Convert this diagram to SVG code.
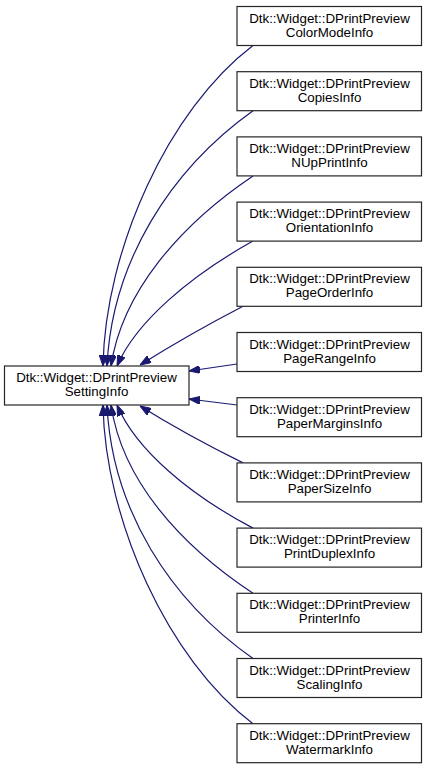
<svg xmlns="http://www.w3.org/2000/svg" width="427" height="771" viewBox="0 0 427 771">
<style>
.node rect { fill: #ffffff; stroke: #262626; stroke-width: 1.2; }
.node text { font-family: "Liberation Sans", Arial, sans-serif; font-size: 13.33px; fill: #000000; text-anchor: middle; }
.edges path { fill: none; stroke: #191970; stroke-width: 1.2; marker-start: url(#arr); }
</style>
<defs>
<marker id="arr" viewBox="0 0 11 8" refX="11" refY="4" markerWidth="11" markerHeight="8" markerUnits="userSpaceOnUse" orient="auto-start-reverse">
<path d="M0,0 L11,4 L0,8 z" fill="#191970" stroke="#191970" stroke-width="1"/>
</marker>
</defs>
<rect width="427" height="771" fill="#ffffff"/>
<g class="edges" id="edges">
<path d="M103,366 C105,250 168,110 253,45.5"/>
<path d="M107,366 C112,262 170,170 253,110.7"/>
<path d="M111,366 C122,292 180,225 253,175.9"/>
<path d="M117,366 C136,322 190,276 253,241.1"/>
<path d="M140,365 C172,345 207,325 243,306.3"/>
<path d="M189,371 L237,364"/>
<path d="M189,399 L237,405"/>
<path d="M140,406 C172,426 207,445 243,462.9"/>
<path d="M117,405 C136,450 190,495 253,528.1"/>
<path d="M111,405 C122,480 180,545 253,593.3"/>
<path d="M107,405 C112,510 170,600 253,658.5"/>
<path d="M103,405 C105,520 168,660 253,723.7"/>
</g>
<g class="node" id="n_setting"><rect x="4.5" y="366" width="184.5" height="39"/><text x="96.5" y="382">Dtk::Widget::DPrintPreview</text><text x="96.5" y="396">SettingInfo</text></g>
<g class="node" id="n_colormode"><rect x="237" y="6.5" width="184.5" height="39"/><text x="329.5" y="22.5">Dtk::Widget::DPrintPreview</text><text x="329.5" y="36.5">ColorModeInfo</text></g>
<g class="node" id="n_copies"><rect x="237" y="71.7" width="184.5" height="39"/><text x="329.5" y="87.7">Dtk::Widget::DPrintPreview</text><text x="329.5" y="101.7">CopiesInfo</text></g>
<g class="node" id="n_nup"><rect x="237" y="136.9" width="184.5" height="39"/><text x="329.5" y="152.9">Dtk::Widget::DPrintPreview</text><text x="329.5" y="166.9">NUpPrintInfo</text></g>
<g class="node" id="n_orientation"><rect x="237" y="202.1" width="184.5" height="39"/><text x="329.5" y="218.1">Dtk::Widget::DPrintPreview</text><text x="329.5" y="232.1">OrientationInfo</text></g>
<g class="node" id="n_pageorder"><rect x="237" y="267.3" width="184.5" height="39"/><text x="329.5" y="283.3">Dtk::Widget::DPrintPreview</text><text x="329.5" y="297.3">PageOrderInfo</text></g>
<g class="node" id="n_pagerange"><rect x="237" y="332.5" width="184.5" height="39"/><text x="329.5" y="348.5">Dtk::Widget::DPrintPreview</text><text x="329.5" y="362.5">PageRangeInfo</text></g>
<g class="node" id="n_papermargins"><rect x="237" y="397.7" width="184.5" height="39"/><text x="329.5" y="413.7">Dtk::Widget::DPrintPreview</text><text x="329.5" y="427.7">PaperMarginsInfo</text></g>
<g class="node" id="n_papersize"><rect x="237" y="462.9" width="184.5" height="39"/><text x="329.5" y="478.9">Dtk::Widget::DPrintPreview</text><text x="329.5" y="492.9">PaperSizeInfo</text></g>
<g class="node" id="n_printduplex"><rect x="237" y="528.1" width="184.5" height="39"/><text x="329.5" y="544.1">Dtk::Widget::DPrintPreview</text><text x="329.5" y="558.1">PrintDuplexInfo</text></g>
<g class="node" id="n_printer"><rect x="237" y="593.3" width="184.5" height="39"/><text x="329.5" y="609.3">Dtk::Widget::DPrintPreview</text><text x="329.5" y="623.3">PrinterInfo</text></g>
<g class="node" id="n_scaling"><rect x="237" y="658.5" width="184.5" height="39"/><text x="329.5" y="674.5">Dtk::Widget::DPrintPreview</text><text x="329.5" y="688.5">ScalingInfo</text></g>
<g class="node" id="n_watermark"><rect x="237" y="723.7" width="184.5" height="39"/><text x="329.5" y="739.7">Dtk::Widget::DPrintPreview</text><text x="329.5" y="753.7">WatermarkInfo</text></g>
</svg>
